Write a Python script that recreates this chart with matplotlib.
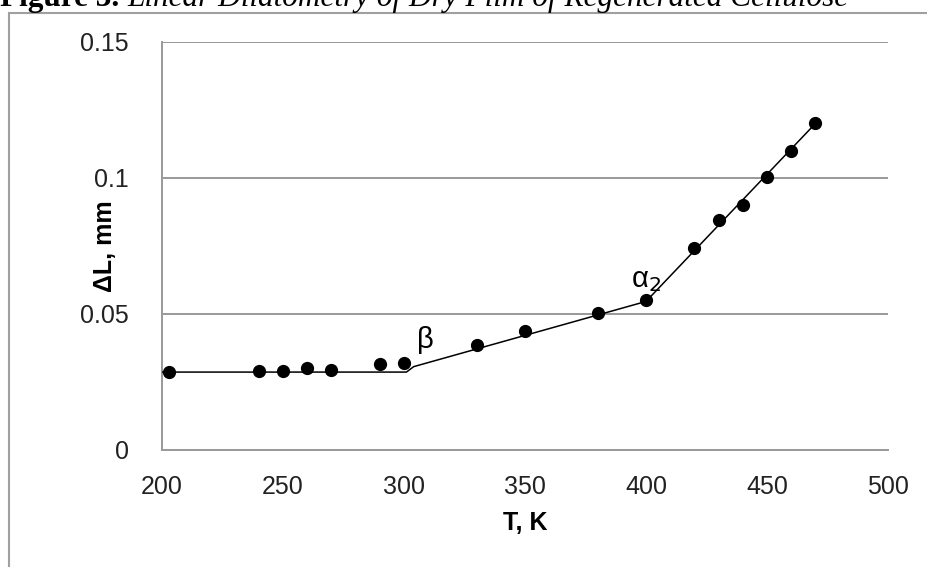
import matplotlib.pyplot as plt
from matplotlib.patches import Rectangle

# data
temp = [203, 240, 250, 260, 270, 290, 300, 330, 350, 380, 400, 420, 430, 440, 450, 460, 470]
dL = [0.0287, 0.0289, 0.0290, 0.0299, 0.0294, 0.0314, 0.0319, 0.0385, 0.0436, 0.0501, 0.0550,
      0.0743, 0.0845, 0.0900, 0.1002, 0.1100, 0.1203]

# piecewise fitted line
fit_T = [200, 301, 304, 400, 470]
fit_L = [0.0285, 0.0285, 0.0305, 0.0545, 0.1200]

x_ticks = [200, 250, 300, 350, 400, 450, 500]
y_ticks = [0, 0.05, 0.1, 0.15]
y_labels = ['0', '0.05', '0.1', '0.15']

plt.rcParams['font.family'] = ['Liberation Sans', 'DejaVu Sans']

fig = plt.figure(figsize=(9.28, 5.67), dpi=100)

# outer frame of the figure box (cut by the page)
fig.patches.append(Rectangle((9 / 928, -0.2), 1.2, 1.2 - 13 / 567,
                             transform=fig.transFigure, fill=False,
                             edgecolor='#a0a0a0', linewidth=1.5))

# caption, cut at the top
base_y = 1 - 6 / 567
t1 = fig.text(0.0, base_y, 'Figure 3. ', fontsize=22.5, fontweight='bold',
              family='Liberation Serif', va='baseline', ha='left')
fig.canvas.draw()
x2 = t1.get_window_extent().x1 / fig.bbox.width
fig.text(x2, base_y, 'Linear Dilatometry of Dry Film of Regenerated Cellulose',
         fontsize=22.5, style='italic', family='Liberation Serif', va='baseline', ha='left')

ax = fig.add_axes([162 / 928, 1 - 449.5 / 567, 726 / 928, 407.5 / 567])

ax.plot(fit_T, fit_L, color='black', linewidth=1.1, zorder=3)
ax.plot(temp, dL, 'o', color='black', markersize=8.5, zorder=4)

ax.set_xlim(200, 500)
ax.set_ylim(0, 0.15)
ax.set_xticks(x_ticks)
ax.set_yticks(y_ticks)
ax.set_yticklabels(y_labels)
ax.tick_params(length=0, labelsize=18, pad=18, colors='#222222')
ax.tick_params(axis='y', pad=24)
ax.yaxis.grid(True, color='#999999', linewidth=1.4)
ax.set_axisbelow(True)
for s in ['top', 'right']:
    ax.spines[s].set_visible(False)
for s in ['left', 'bottom']:
    ax.spines[s].set_color('#999999')
    ax.spines[s].set_linewidth(1.4)

ax.set_xlabel('T, K', fontsize=18, fontweight='bold', va='top')
ax.xaxis.set_label_coords(0.5, -0.15)
ax.set_ylabel('ΔL, mm', fontsize=18, fontweight='bold')
ax.yaxis.set_label_coords(-0.062, 0.5)

ax.text(309, 0.0403, 'β', fontsize=21, ha='center', va='center')
ax.text(400, 0.0624, 'α$_2$', fontsize=21, ha='center', va='center')

fig.savefig('out.png', dpi=100)
